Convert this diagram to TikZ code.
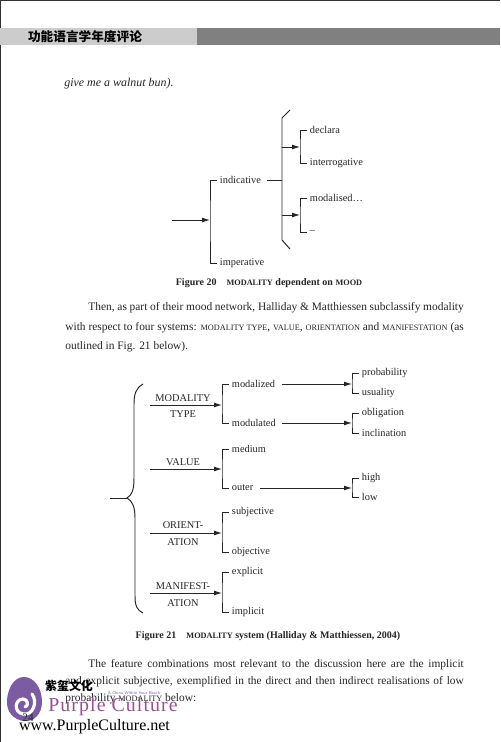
\documentclass[tikz,border=0pt]{standalone}
\usepackage{fontspec}
\setmainfont{Liberation Serif}
\newfontfamily\cjk{Noto Sans CJK SC}
\usetikzlibrary{positioning,arrows.meta}
\definecolor{logopurple}{HTML}{7C5BA3}
\definecolor{namepurple}{HTML}{9A4F96}
\newcommand{\lowcaps}[1]{{\fontsize{4.7}{5}\selectfont #1}}
\newcommand{\fullline}[2]{\makebox[#1][s]{#2}}
\tikzset{
    body/.style={anchor=west, inner sep=0pt, font=\fontsize{6.5}{8}\selectfont, text=black!85},
    caption/.style={inner sep=0pt, font=\fontsize{5.7}{8}\selectfont\bfseries, text=black!85},
    lbl/.style={anchor=west, inner xsep=1.5pt, inner ysep=1pt, font=\fontsize{5.9}{7}\selectfont, text=black!85},
    sysname/.style={inner sep=0pt, font=\fontsize{5.9}{7}\selectfont, text=black!85},
    line/.style={draw=black!85, line width=0.55pt},
    arr/.style={line, -{Latex[length=4.5pt,width=2.8pt]}}
}
\begin{document}
\begin{tikzpicture}[x=0.02cm, y=-0.02cm]
    \useasboundingbox (0,0) rectangle (500,742);
    \fill[white] (0,0) rectangle (500,742);
    \fill[black!80] (0,0) rectangle (500,1);
    \fill[black!80] (0,0) rectangle (1,742);
    % running head
    \fill[black!20] (0,28) rectangle (197,45);
    \fill[black!50] (197,28) rectangle (500,45);
    \node[inner sep=0pt, font=\fontsize{7.2}{8}\cjk\bfseries] (head) at (85,37) {功能语言学年度评论};
    \node[body, font=\fontsize{6.8}{8}\selectfont\itshape] (give) at (64,84) {give me a walnut bun).};

    % figure 20
    \coordinate (start) at (172,220);
    \coordinate (moodbar) at (210,220);
    \node[lbl] (indicative) at (217,180) {indicative};
    \node[lbl] (imperative) at (217,263) {imperative};
    \draw[arr] (start) -- (moodbar);
    \draw[line] (indicative.west) -| (moodbar) |- (imperative.west);
    \coordinate (top) at (290,110);
    \coordinate (bot) at (290,249);
    \coordinate (join) at (282,180);
    \draw[line] (top) -- (282,118) -- (282,240) -- (bot);
    \draw[line, shorten <=2pt] (indicative.east) -- (join);
    \coordinate (jointop) at (282,147);
    \coordinate (joinbot) at (282,215);
    \coordinate (declbar) at (300,147);
    \coordinate (modabar) at (300,215);
    \node[lbl] (declara) at (307,130) {declara};
    \node[lbl] (interrogative) at (307,163) {interrogative};
    \node[lbl] (modalised) at (307,198) {modalised\ldots};
    \node[lbl] (blank) at (307,232) {--};
    \draw[arr] (jointop) -- (declbar);
    \draw[arr] (joinbot) -- (modabar);
    \draw[line] (declara.west) -| (declbar) |- (interrogative.west);
    \draw[line] (modalised.west) -| (modabar) |- (blank.west);
    \node[caption] (capa) at (269,283) {Figure 20\quad\lowcaps{MODALITY} dependent on \lowcaps{MOOD}};

    % paragraph between the figures
    \node[body] (para) at (88,308) {\fullline{213.7pt}{Then, as part of their mood network, Halliday \& Matthiessen subclassify modality}};
    \node[body] (parb) at (65,328) {\fullline{226.8pt}{with respect to four systems: \lowcaps{MODALITY TYPE}, \lowcaps{VALUE}, \lowcaps{ORIENTATION} and \lowcaps{MANIFESTATION} (as}};
    \node[body] (parc) at (65,347) {outlined in Fig. 21 below).};

    % figure 21
    \coordinate (bracetip) at (127,498);
    \coordinate (bracein) at (110,498);
    \draw[line] (143,384) .. controls (136,388) and (134,394) .. (134,404) -- (134,478)
        .. controls (134,490) and (132,495) .. (bracetip)
        .. controls (132,501) and (135,506) .. (135,518) -- (135,596)
        .. controls (135,606) and (137,610) .. (143,613);
    \draw[line] (bracein) -- (bracetip);

    \coordinate (typein) at (150,405);
    \coordinate (typebar) at (222,405);
    \coordinate (valuein) at (150,469);
    \coordinate (valuebar) at (222,469);
    \coordinate (orientin) at (150,533);
    \coordinate (orientbar) at (222,533);
    \coordinate (manifin) at (150,593);
    \coordinate (manifbar) at (222,593);
    \node[sysname] (modality) at (183,398) {MODALITY};
    \node[sysname] (type) at (183,414) {TYPE};
    \node[sysname] (value) at (183,462) {VALUE};
    \node[sysname] (orient) at (183,525) {ORIENT-};
    \node[sysname] (ationa) at (183,542) {ATION};
    \node[sysname] (manifest) at (183,586) {MANIFEST-};
    \node[sysname] (ationb) at (183,603) {ATION};
    \draw[arr] (typein) -- (typebar);
    \draw[arr] (valuein) -- (valuebar);
    \draw[arr] (orientin) -- (orientbar);
    \draw[arr] (manifin) -- (manifbar);

    \node[lbl] (modalized) at (229,384) {modalized};
    \node[lbl] (modulated) at (229,423) {modulated};
    \node[lbl] (medium) at (229,449) {medium};
    \node[lbl] (outer) at (229,488) {outer};
    \node[lbl] (subjective) at (229,512) {subjective};
    \node[lbl] (objective) at (229,552) {objective};
    \node[lbl] (explicit) at (229,572) {explicit};
    \node[lbl] (implicit) at (229,612) {implicit};
    \draw[line] (modalized.west) -| (typebar) |- (modulated.west);
    \draw[line] (medium.west) -| (valuebar) |- (outer.west);
    \draw[line] (subjective.west) -| (orientbar) |- (objective.west);
    \draw[line] (explicit.west) -| (manifbar) |- (implicit.west);

    \coordinate (probbar) at (352,384);
    \coordinate (oblibar) at (352,423);
    \coordinate (highbar) at (352,488);
    \node[lbl] (probability) at (359,373) {probability};
    \node[lbl] (usuality) at (359,393) {usuality};
    \node[lbl] (obligation) at (359,413) {obligation};
    \node[lbl] (inclination) at (359,433) {inclination};
    \node[lbl] (high) at (359,478) {high};
    \node[lbl] (low) at (359,497) {low};
    \draw[arr, shorten <=2pt] (modalized.east) -- (probbar);
    \draw[arr, shorten <=2pt] (modulated.east) -- (oblibar);
    \draw[arr, shorten <=2pt] (outer.east) -- (highbar);
    \draw[line] (probability.west) -| (probbar) |- (usuality.west);
    \draw[line] (obligation.west) -| (oblibar) |- (inclination.west);
    \draw[line] (high.west) -| (highbar) |- (low.west);
    \node[caption] (capb) at (268,636) {Figure 21\quad\lowcaps{MODALITY} system (Halliday \& Matthiessen, 2004)};

    % paragraph under the figures
    \node[body] (para2) at (88,665) {\fullline{213.7pt}{The feature combinations most relevant to the discussion here are the implicit}};
    \node[body] (parb2) at (65,682) {\fullline{226.8pt}{and explicit subjective, exemplified in the direct and then indirect realisations of low}};
    \node[body] (parc2) at (65,699) {probability \lowcaps{MODALITY} below:};

    % stamp
    \fill[logopurple] (24,677) .. controls (34,677) and (42,688) .. (42,702)
        .. controls (42,714) and (34,722) .. (24,721)
        .. controls (14,720) and (6,712) .. (7,700)
        .. controls (8,688) and (14,677) .. (24,677);
    \draw[white, line width=1.8pt, line cap=round] (25,707) .. controls (29,706) and (28,699) .. (23,699)
        .. controls (15,699) and (13,712) .. (23,714)
        .. controls (33,716) and (38,702) .. (32,694);
    \node[body] (page) at (22,718) {24};
    \node[inner sep=0pt, font=\fontsize{6.8}{8}\cjk\bfseries] (stampcn) at (69,686) {紫玺文化};
    \node[inner sep=0pt, font=\fontsize{2.4}{3}\selectfont\sffamily, text=logopurple] (stampen) at (134,693) {A China Within Your Reach};
    \node[inner sep=0pt, font=\fontsize{11.3}{14}\selectfont\addfontfeature{LetterSpace=5.5}, text=namepurple] (stampname) at (113,707) {Purple Culture};
    \node[inner sep=0pt, font=\fontsize{9.1}{12}\selectfont] (stampweb) at (94.5,727) {www.PurpleCulture.net};
\end{tikzpicture}
\end{document}
